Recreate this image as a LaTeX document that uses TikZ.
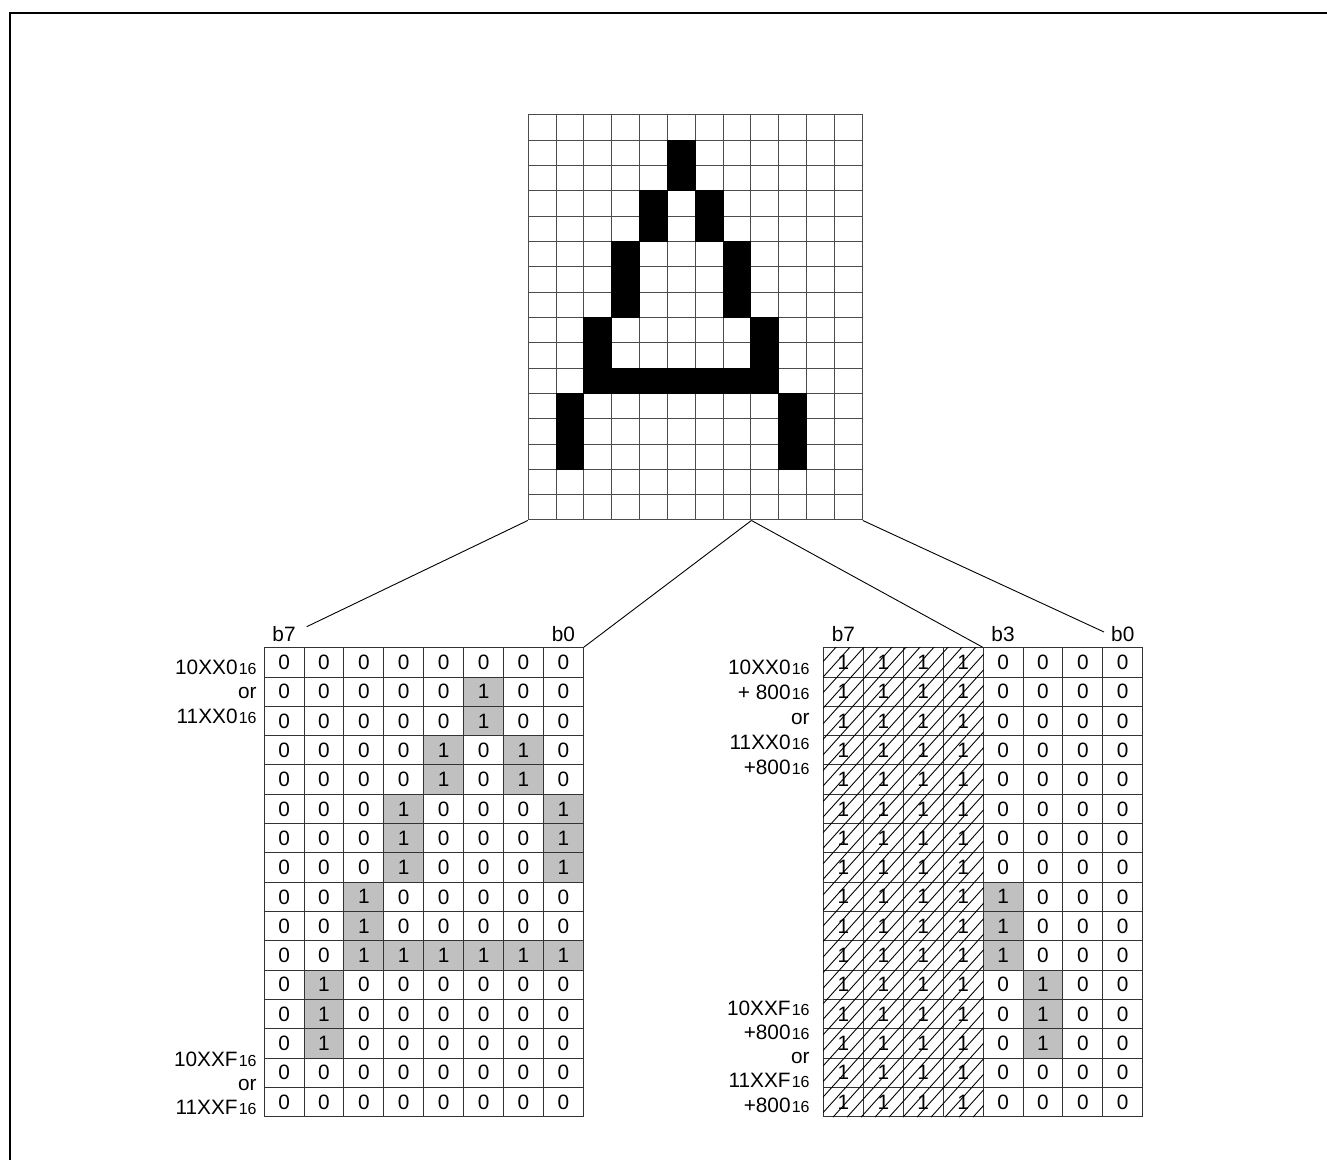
\documentclass[tikz,border=0pt]{standalone}
\usepackage{fontspec}
\setmainfont{Liberation Sans}
\usetikzlibrary{positioning,calc}
\definecolor{shade}{RGB}{192,192,192}
\newcommand\hexsub{{\kern0.6pt\fontsize{8}{9}\selectfont 16}}
% one row per raster line, b7 ... b0 of the first byte, then b3 ... b0 of the second
\newcommand\glyphrows{%
  {0,0,0,0,0,0,0,0,0,0,0,0},{0,0,0,0,0,1,0,0,0,0,0,0},%
  {0,0,0,0,0,1,0,0,0,0,0,0},{0,0,0,0,1,0,1,0,0,0,0,0},%
  {0,0,0,0,1,0,1,0,0,0,0,0},{0,0,0,1,0,0,0,1,0,0,0,0},%
  {0,0,0,1,0,0,0,1,0,0,0,0},{0,0,0,1,0,0,0,1,0,0,0,0},%
  {0,0,1,0,0,0,0,0,1,0,0,0},{0,0,1,0,0,0,0,0,1,0,0,0},%
  {0,0,1,1,1,1,1,1,1,0,0,0},{0,1,0,0,0,0,0,0,0,1,0,0},%
  {0,1,0,0,0,0,0,0,0,1,0,0},{0,1,0,0,0,0,0,0,0,1,0,0},%
  {0,0,0,0,0,0,0,0,0,0,0,0},{0,0,0,0,0,0,0,0,0,0,0,0}}
\tikzset{
  txt/.style={font=\fontsize{10.4}{12}\selectfont,inner sep=0pt},
  pix0/.style={draw=black!70,line width=0.5pt,minimum width=13.915pt,
    minimum height=12.655pt,inner sep=0pt},
  bit0/.style={txt,draw=black!80,line width=0.5pt,minimum width=19.95pt,
    minimum height=14.655pt},
  bit1/.style={bit0,fill=shade},
  bitlbl/.style={txt,anchor=base},
  addr/.style={txt,anchor=base east},
  link/.style={draw=black,line width=0.45pt},
  hatchline/.style={draw=black,line width=0.45pt},
  frame/.style={draw=black,line width=1pt},
}

\begin{document}
\begin{tikzpicture}[x=0.5pt,y=-0.5pt]
  \useasboundingbox (0,0) rectangle (1327,1160);
  \draw[frame] (10,1160) -- (10,13.3) -- (1327,13.3);

  % character raster
  \foreach \bits [count=\r from 0] in \glyphrows {
    \foreach \b [count=\c from 0] in \bits
      \node[pix0] (G-\r-\c) at ({528.3+27.83*(\c+0.5)},{115+25.31*(\r+0.5)}) {};
  }
  \foreach \bits [count=\r from 0] in \glyphrows {
    \foreach \b [count=\c from 0] in \bits {
      \ifnum\b=1 \fill (G-\r-\c.south west) rectangle (G-\r-\c.north east);\fi
    }
  }

  % the two data tables
  \foreach \bits [count=\r from 0] in \glyphrows {
    \foreach \b [count=\c from 0] in \bits {
      \ifnum\c<8
        \node[bit\b] (L-\r-\c) at ({264.1+39.9*(\c+0.5)},{647.7+29.31*(\r+0.5)}) {\b};
      \else
        \pgfmathtruncatemacro\k{\c-4}
        \node[bit\b] (R-\r-\k) at ({823.5+39.9*(\k+0.5)},{647.7+29.31*(\r+0.5)}) {\b};
      \fi
    }
    \foreach \k in {0,...,3}
      \node[bit0] (R-\r-\k) at ({823.5+39.9*(\k+0.5)},{647.7+29.31*(\r+0.5)}) {1};
  }
  \begin{scope}
    \clip (R-0-0.north west) rectangle (R-15-3.south east);
    \foreach \s in {-480,-466,...,170}
      \draw[hatchline] ($(R-15-0.south west)+(\s,0)$) -- ++(450,-500);
  \end{scope}

  % bit labels
  \node[bitlbl] (Lb7) at ([yshift=3pt]L-0-0.north) {b7};
  \node[bitlbl] (Lb0) at ([yshift=3pt]L-0-7.north) {b0};
  \node[bitlbl] (Rb7) at ([yshift=3pt]R-0-0.north) {b7};
  \node[bitlbl] (Rb3) at ([yshift=3pt]R-0-4.north) {b3};
  \node[bitlbl] (Rb0) at ([yshift=3pt]R-0-7.north) {b0};

  % addresses
  \foreach \t [count=\i from 0] in {10XX0\hexsub, or, 11XX0\hexsub}
    \node[addr] (LT-\i) at (257,{674+24.5*\i}) {\t};
  \foreach \t [count=\i from 0] in {10XXF\hexsub, or, 11XXF\hexsub}
    \node[addr] (LB-\i) at (257,{1066+24*\i}) {\t};
  \foreach \t [count=\i from 0] in {10XX0\hexsub, + 800\hexsub, or, 11XX0\hexsub, +800\hexsub}
    \node[addr] (RT-\i) at (810,{674+25*\i}) {\t};
  \foreach \t [count=\i from 0] in {10XXF\hexsub, +800\hexsub, or, 11XXF\hexsub, +800\hexsub}
    \node[addr] (RB-\i) at (810,{1015+24.3*\i}) {\t};

  % fan-out lines
  \coordinate (lfree) at (306.7,626.7);
  \coordinate (rfree) at (1104,632);
  \draw[link] (G-15-0.south west) -- (lfree);
  \draw[link] (G-15-7.south east) -- (L-0-7.north east);
  \draw[link] (G-15-7.south east) -- (R-0-4.north west);
  \draw[link] (G-15-11.south east) -- (rfree);
\end{tikzpicture}
\end{document}
